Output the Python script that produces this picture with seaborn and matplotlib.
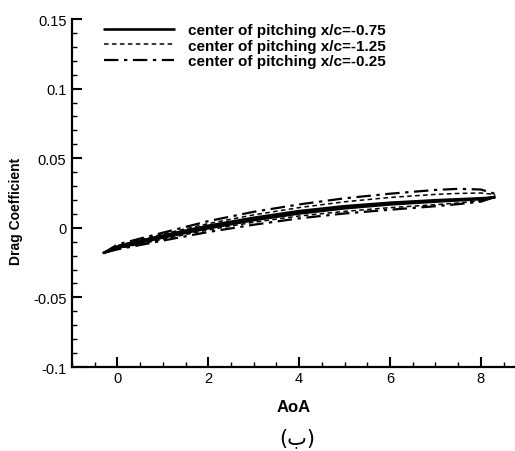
import numpy as np
import pandas as pd
import matplotlib
matplotlib.use("Agg")
import matplotlib.pyplot as plt
import seaborn as sns
from matplotlib.ticker import MultipleLocator

# ---- data ----
aoa = [-0.3, 0.0, 1.0, 2.0, 3.0, 4.0, 5.0, 6.0, 7.0, 7.5, 8.0, 8.3]

labels = ["center of pitching x/c=-0.75",
          "center of pitching x/c=-1.25",
          "center of pitching x/c=-0.25"]

cd_up_075 = [-0.0180, -0.0135, -0.0055, 0.0015, 0.0072, 0.0120, 0.0155, 0.0180, 0.0198, 0.0205, 0.0212, 0.0218]
cd_lo_075 = [-0.0180, -0.0145, -0.0070, -0.0003, 0.0055, 0.0103, 0.0140, 0.0168, 0.0188, 0.0197, 0.0206, 0.0218]

cd_up_125 = [-0.0180, -0.0128, -0.0045, 0.0030, 0.0093, 0.0145, 0.0187, 0.0218, 0.0240, 0.0247, 0.0250, 0.0240]
cd_lo_125 = [-0.0180, -0.0150, -0.0082, -0.0015, 0.0040, 0.0085, 0.0118, 0.0145, 0.0166, 0.0178, 0.0195, 0.0215]

cd_up_025 = [-0.0180, -0.0120, -0.0035, 0.0048, 0.0115, 0.0168, 0.0212, 0.0245, 0.0272, 0.0280, 0.0275, 0.0245]
cd_lo_025 = [-0.0180, -0.0155, -0.0092, -0.0030, 0.0022, 0.0068, 0.0103, 0.0130, 0.0155, 0.0170, 0.0188, 0.0220]

x_ticks = [0, 2, 4, 6, 8]
y_ticks = [-0.1, -0.05, 0, 0.05, 0.1, 0.15]
y_ticklabels = ["-0.1", "-0.05", "0", "0.05", "0.1", "0.15"]

# ---- style ----
sns.set_style("ticks")
plt.rcParams["font.family"] = ["Liberation Sans", "DejaVu Sans"]
plt.rcParams["text.color"] = "black"
plt.rcParams["axes.labelcolor"] = "black"
plt.rcParams["xtick.color"] = "black"
plt.rcParams["ytick.color"] = "black"

fig = plt.figure(figsize=(5.15, 4.52), dpi=100)
ax = fig.add_axes([72/515, 1-368/452, 1-72/515, (368-20)/452])

series = [
    (labels[0], cd_up_075, cd_lo_075, dict(linestyle="-", linewidth=1.9)),
    (labels[1], cd_up_125, cd_lo_125, dict(linestyle=(0, (3, 2.2)), linewidth=1.1)),
    (labels[2], cd_up_025, cd_lo_025, dict(linestyle=(0, (6.5, 2.5, 1.5, 2.5)), linewidth=1.6)),
]

for lab, up, lo, st in series:
    xs = list(aoa) + list(aoa[::-1])
    ys = list(up) + list(lo[::-1])
    df = pd.DataFrame({"AoA": xs, "Cd": ys, "i": range(len(xs))})
    sns.lineplot(data=df, x="AoA", y="Cd", sort=False, estimator=None,
                 color="black", label=lab, ax=ax, **st)

ax.set_xlim(-1, 8.75)
ax.set_ylim(-0.1, 0.15)
ax.set_xticks(x_ticks)
ax.set_yticks(y_ticks)
ax.set_yticklabels(y_ticklabels)
ax.xaxis.set_minor_locator(MultipleLocator(0.5))
ax.yaxis.set_minor_locator(MultipleLocator(0.01))

for s in ["top", "right"]:
    ax.spines[s].set_visible(False)
for s in ["left", "bottom"]:
    ax.spines[s].set_linewidth(1.6)
    ax.spines[s].set_color("black")

ax.tick_params(which="major", direction="in", length=7, width=1.5, labelsize=10.5,
               pad=3, colors="black")
ax.tick_params(which="minor", direction="in", length=3.5, width=1.0, colors="black")
ax.tick_params(axis="y", pad=4)

ax.set_xlabel("AoA", fontsize=12, fontweight="bold", labelpad=10, color="black")
ax.set_ylabel("Drag Coefficient", fontsize=10, fontweight="bold", color="black")
ax.yaxis.set_label_coords(-0.11, 0.45)

leg = ax.legend(loc="upper left", bbox_to_anchor=(104/515, 1-24/452),
                bbox_transform=fig.transFigure, frameon=False,
                prop={"weight": "bold", "size": 11}, handlelength=4.6,
                handletextpad=0.9, labelspacing=0.1, borderpad=0, borderaxespad=0)
for t in leg.get_texts():
    t.set_color("black")

fig.text(297/515, 1-438/452, "(ب)", ha="center", va="center", fontsize=15,
         family=["DejaVu Sans"], color="black")

fig.savefig("out.png", dpi=100)
